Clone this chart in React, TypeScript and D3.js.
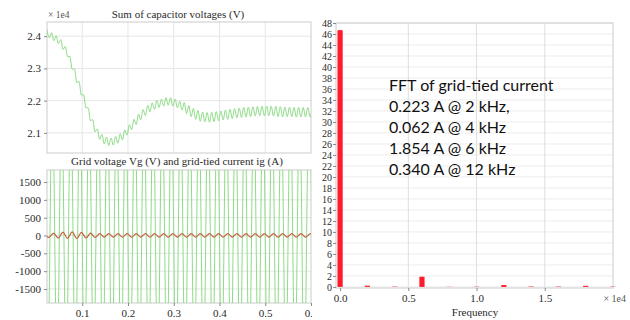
import React, { useEffect, useRef } from "react";
import * as d3 from "d3";

// Sum of capacitor voltages (x 1e4 V), ripple peaks/troughs every 5 ms
const capStart = 0.023;
const capStep = 0.005;
const capVoltage = [
  2.420, 2.395, 2.411, 2.386, 2.401, 2.377, 2.389, 2.359, 2.368, 2.336,
  2.337, 2.298, 2.298, 2.256, 2.259, 2.218, 2.218, 2.178, 2.178, 2.138,
  2.141, 2.103, 2.112, 2.080, 2.095, 2.066, 2.087, 2.061, 2.084, 2.062,
  2.089, 2.068, 2.097, 2.078, 2.109, 2.093, 2.125, 2.110, 2.142, 2.126,
  2.158, 2.141, 2.172, 2.154, 2.185, 2.165, 2.193, 2.173, 2.201, 2.179,
  2.205, 2.183, 2.209, 2.186, 2.209, 2.183, 2.205, 2.178, 2.198, 2.171,
  2.194, 2.160, 2.185, 2.150, 2.176, 2.142, 2.169, 2.136, 2.165, 2.134,
  2.163, 2.133, 2.164, 2.135, 2.166, 2.137, 2.168, 2.140, 2.171, 2.142,
  2.173, 2.144, 2.175, 2.146, 2.177, 2.148, 2.179, 2.149, 2.180, 2.151,
  2.181, 2.152, 2.182, 2.153, 2.183, 2.153, 2.183, 2.153, 2.183, 2.152,
  2.182, 2.151, 2.181, 2.150, 2.180, 2.150, 2.180, 2.150, 2.179, 2.149,
  2.179, 2.149, 2.179, 2.149, 2.179, 2.149, 2.180,
];

// Grid voltage Vg peaks (V), one every half cycle of 50 Hz
const gridStart = 0.015;
const gridStep = 0.01;
const gridVoltage = [
  3800, -3800, 3800, -3800, 3800, -3800, 3800, -3800, 3800, -3800,
  3800, -3800, 3800, -3800, 3800, -3800, 3800, -3800, 3800, -3800,
  3800, -3800, 3800, -3800, 3800, -3800, 3800, -3800, 3800, -3800,
  3800, -3800, 3800, -3800, 3800, -3800, 3800, -3800, 3800, -3800,
  3800, -3800, 3800, -3800, 3800, -3800, 3800, -3800, 3800, -3800,
  3800, -3800, 3800, -3800, 3800, -3800, 3800, -3800, 3800, -3800,
];

// Grid-tied current ig peaks (A)
const currentStart = 0.018;
const currentStep = 0.01;
const gridCurrent = [
  40, -50, 60, -70, 95, -80, 100, -85, 90, -70,
  65, -55, 50, -45, 50, -45, 50, -48, 50, -45,
  52, -45, 50, -46, 50, -45, 52, -46, 50, -45,
  50, -46, 52, -45, 50, -46, 50, -45, 52, -46,
  50, -45, 50, -46, 52, -45, 50, -46, 50, -45,
  52, -46, 50, -45, 50, -46, 52, -45, 50, -46,
];

// FFT of grid-tied current
const fftFreq = [0, 2000, 4000, 6000, 8000, 10000, 12000, 14000, 16000, 18000, 20000];
const fftAmp = [46.7, 0.223, 0.062, 1.854, 0.03, 0.05, 0.34, 0.08, 0.07, 0.2, 0.06];
const fftNotes = [
  "FFT of grid-tied current",
  "0.223 A @ 2 kHz,",
  "0.062 A @ 4 kHz",
  "1.854 A @ 6 kHz",
  "0.340 A @ 12 kHz",
];

const timeTicks = [0.1, 0.2, 0.3, 0.4, 0.5, 0.6];
const capTicks = [2.1, 2.2, 2.3, 2.4];
const gridTicks = [-1500, -1000, -500, 0, 500, 1000, 1500];
const fftTicks = d3.range(0, 49, 2);
const freqTicks = [0, 5000, 10000, 15000];

const serif = "'Liberation Serif', 'Times New Roman', serif";
const green = "#8ddc86";
const brown = "#c2643f";
const red = "#ff1a2c";
const gridColor = "#e6e6e6";
const borderColor = "#cccccc";
const labelColor = "#2a2a2a";

type G = d3.Selection<SVGGElement, unknown, null, undefined>;
const styleAxis = (g: G, size: number) => {
  g.attr("font-family", serif).attr("font-size", size);
  g.select(".domain").remove();
  g.selectAll("line").attr("stroke", "#888");
  g.selectAll("text").attr("font-family", serif).attr("font-size", size).attr("fill", labelColor);
};

const App = () => {
  const svgRef = useRef<SVGSVGElement>(null);

  useEffect(() => {
    const svg = d3.select(svgRef.current);
    svg.selectAll("*").remove();

    const xTime = d3.scaleLinear().domain([0.023, 0.6]).range([47, 311]);
    const yCap = d3.scaleLinear().domain([2.0375, 2.444]).range([153, 22]);
    const yGrid = d3.scaleLinear().domain([-1893, 1837]).range([303, 170]);

    const defs = svg.append("defs");
    defs.append("clipPath").attr("id", "clipTop")
      .append("rect").attr("x", 47).attr("y", 22).attr("width", 264).attr("height", 131);
    defs.append("clipPath").attr("id", "clipBot")
      .append("rect").attr("x", 47).attr("y", 170).attr("width", 264).attr("height", 133);

    // ===== top-left panel =====
    const top = svg.append("g");
    top.selectAll("line.hg").data(capTicks).join("line")
      .attr("x1", 47).attr("x2", 311)
      .attr("y1", d => yCap(d)).attr("y2", d => yCap(d))
      .attr("stroke", gridColor);
    top.selectAll("line.vg").data(timeTicks.slice(0, 5)).join("line")
      .attr("y1", 22).attr("y2", 153)
      .attr("x1", d => xTime(d)).attr("x2", d => xTime(d))
      .attr("stroke", gridColor);
    top.append("rect").attr("x", 47).attr("y", 22).attr("width", 264).attr("height", 131)
      .attr("fill", "none").attr("stroke", borderColor);

    const capLine = d3.line<number>()
      .x((_, i) => xTime(capStart + i * capStep))
      .y(d => yCap(d))
      .curve(d3.curveMonotoneX);
    top.append("path").datum(capVoltage)
      .attr("clip-path", "url(#clipTop)")
      .attr("fill", "none").attr("stroke", green).attr("stroke-width", 1)
      .attr("d", capLine);

    top.append("g")
      .attr("transform", "translate(47,0)")
      .call(d3.axisLeft(yCap).tickValues(capTicks).tickSize(3).tickFormat(d3.format(".1f")))
      .call(g => styleAxis(g, 11));

    top.append("text").attr("x", 178).attr("y", 18).attr("text-anchor", "middle")
      .attr("font-family", serif).attr("font-size", 11).attr("fill", labelColor)
      .text("Sum of capacitor voltages (V)");
    top.append("text").attr("x", 48).attr("y", 18)
      .attr("font-family", serif).attr("font-size", 9.5).attr("fill", "#555")
      .text("× 1e4");

    // ===== bottom-left panel =====
    const bot = svg.append("g");
    bot.selectAll("line.hg").data(gridTicks).join("line")
      .attr("x1", 47).attr("x2", 311)
      .attr("y1", d => yGrid(d)).attr("y2", d => yGrid(d))
      .attr("stroke", gridColor);
    bot.selectAll("line.vg").data(timeTicks.slice(0, 5)).join("line")
      .attr("y1", 170).attr("y2", 303)
      .attr("x1", d => xTime(d)).attr("x2", d => xTime(d))
      .attr("stroke", gridColor);
    bot.append("rect").attr("x", 47).attr("y", 170).attr("width", 264).attr("height", 133)
      .attr("fill", "none").attr("stroke", borderColor);

    const vLine = d3.line<number>()
      .x((_, i) => xTime(gridStart + i * gridStep))
      .y(d => yGrid(d))
      .curve(d3.curveNatural);
    bot.append("path").datum(gridVoltage)
      .attr("clip-path", "url(#clipBot)")
      .attr("fill", "none").attr("stroke", green).attr("stroke-width", 1)
      .attr("d", vLine);

    const iLine = d3.line<number>()
      .x((_, i) => xTime(currentStart + i * currentStep))
      .y(d => yGrid(d))
      .curve(d3.curveNatural);
    bot.append("path").datum(gridCurrent)
      .attr("clip-path", "url(#clipBot)")
      .attr("fill", "none").attr("stroke", brown).attr("stroke-width", 1.2)
      .attr("d", iLine);

    bot.append("g")
      .attr("transform", "translate(47,0)")
      .call(d3.axisLeft(yGrid).tickValues(gridTicks).tickSize(3).tickFormat(d => String(d)))
      .call(g => styleAxis(g, 11));

    bot.append("g")
      .attr("transform", "translate(0,303)")
      .call(d3.axisBottom(xTime).tickValues(timeTicks).tickSize(3).tickFormat(d3.format(".1f")))
      .call(g => styleAxis(g, 11));

    bot.append("text").attr("x", 177).attr("y", 165).attr("text-anchor", "middle")
      .attr("font-family", serif).attr("font-size", 11).attr("fill", labelColor)
      .text("Grid voltage Vg (V) and grid-tied current ig (A)");

    // ===== right panel: FFT =====
    const xF = d3.scaleLinear().domain([-300, 20000]).range([336, 613]);
    const yF = d3.scaleLinear().domain([-0.2, 48]).range([288, 23]);

    const right = svg.append("g");
    right.append("rect").attr("x", 312).attr("y", 0).attr("width", 318).attr("height", 320).attr("fill", "#fff");

    right.selectAll("line.hg").data(fftTicks).join("line")
      .attr("x1", 336).attr("x2", 613)
      .attr("y1", d => yF(d)).attr("y2", d => yF(d))
      .attr("stroke", "#ececec");
    right.selectAll("line.vg").data(freqTicks.slice(1)).join("line")
      .attr("y1", 23).attr("y2", 288)
      .attr("x1", d => xF(d)).attr("x2", d => xF(d))
      .attr("stroke", "#dedede");
    right.append("rect").attr("x", 336).attr("y", 23).attr("width", 277).attr("height", 265)
      .attr("fill", "none").attr("stroke", borderColor);

    const barHalf = 190;
    right.selectAll("rect.bar").data(fftFreq).join("rect")
      .attr("x", d => xF(d - barHalf))
      .attr("width", d => xF(d + barHalf) - xF(d - barHalf))
      .attr("y", (_, i) => yF(fftAmp[i]))
      .attr("height", (_, i) => yF(0) - yF(fftAmp[i]))
      .attr("fill", red);

    right.append("g")
      .attr("transform", "translate(336,0)")
      .call(d3.axisLeft(yF).tickValues(fftTicks).tickSize(3).tickFormat(d3.format("d")))
      .call(g => styleAxis(g, 10))
      .call(g => g.selectAll("text").attr("x", -4));

    right.append("g")
      .attr("transform", "translate(0,288)")
      .call(d3.axisBottom(xF).tickValues(freqTicks).tickSize(3).tickFormat(d => d3.format(".1f")(+d / 10000)))
      .call(g => styleAxis(g, 11));

    right.append("text").attr("x", 475).attr("y", 316).attr("text-anchor", "middle")
      .attr("font-family", serif).attr("font-size", 11).attr("fill", labelColor)
      .text("Frequency");
    right.append("text").attr("x", 626).attr("y", 302).attr("text-anchor", "end")
      .attr("font-family", serif).attr("font-size", 10).attr("fill", "#555")
      .text("× 1e4");

    right.selectAll("text.note").data(fftNotes).join("text")
      .attr("x", 389)
      .attr("y", (_, i) => 91 + i * 21)
      .attr("font-family", "Lato, 'Open Sans', sans-serif")
      .attr("font-size", 16)
      .attr("fill", "#111")
      .text(d => d);
  }, []);

  return (
    <svg
      ref={svgRef}
      width={630}
      height={320}
      style={{ position: "absolute", left: 0, top: 0, background: "#fff" }}
    />
  );
};

export default App;
